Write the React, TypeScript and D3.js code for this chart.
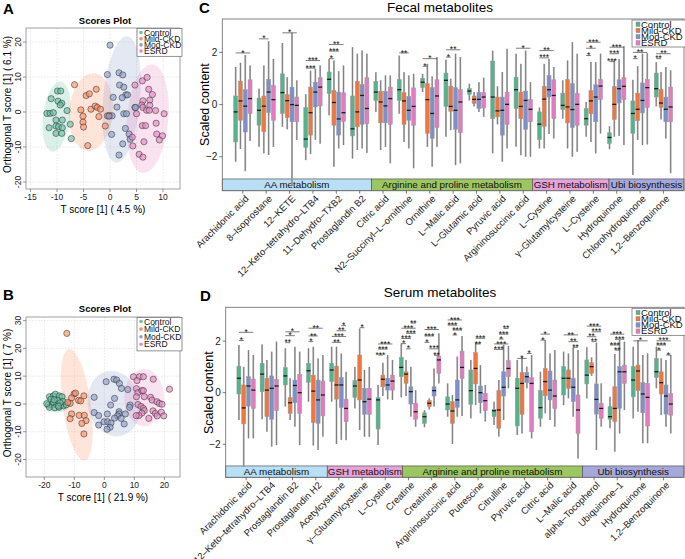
import React from 'react';
import * as d3 from 'd3';

const FONT = 'Liberation Sans, Arial, Helvetica, sans-serif';

const groups = ['Control', 'Mild-CKD', 'Mod-CKD', 'ESRD'];
const pointColors = ['#66c2a5', '#fc8d62', '#8da0cb', '#e78ac3'];
const boxColors = ['#55b38b', '#f0763f', '#7f90c8', '#e07cbf'];

type Pt = [number, number];
type Box = [number, number, number, number, number]; // lower whisker, q1, median, q3, upper whisker
type Sig = [number, number, number, number, string]; // metabolite, group a, group b, height, label
type Ell = { cx: number; cy: number; rx: number; ry: number; angle: number };

// ---- A: fecal OPLS-DA scores ----
const fecalControl: Pt[] = [[-9.9, 6.0], [-9.3, 6.0], [-11.1, 3.8], [-9.8, 3.1], [-9.1, 2.5], [-9.4, 2.0], [-11.9, -0.4], [-11.3, -0.4], [-10.7, -0.2], [-10.2, -2.3], [-9.0, -2.3], [-8.1, 0.4], [-7.5, -3.5], [-11.5, -4.5], [-10.2, -4.0], [-9.7, -4.2], [-9.0, -4.5], [-10.2, -6.1], [-9.1, -6.1], [-7.3, -7.6]];
const fecalMild: Pt[] = [[-6.7, 7.8], [-4.5, 4.7], [-3.9, 5.2], [-2.6, 6.5], [-5.5, 0.6], [-3.6, 0.8], [-2.8, 1.7], [-2.4, 1.3], [-1.8, 0.8], [-2.1, -1.3], [-5.1, -1.2], [-5.1, -2.9], [-5.0, -4.3], [-0.9, -4.0], [-4.2, -9.6], [-0.5, -1.1], [-0.1, -1.0]];
const fecalMod: Pt[] = [[0, 19.1], [-0.5, 10.7], [1.7, 11.2], [2.4, 10.6], [1.8, 7.7], [2.6, 7.1], [3.0, 4.9], [3.3, 4.9], [2.3, 4.1], [0.6, 4.2], [1.3, 1.4], [2.6, -0.5], [3.1, -0.5], [0.4, -1.1], [-0.2, -1.2], [4.7, 1.3], [4.8, 1.3], [2.9, -4.7], [3.6, -6.3], [0.3, -6.4], [2.4, -9.1], [1.7, -12.3], [3.8, -7.8]];
const fecalESRD: Pt[] = [[4.7, 7.7], [6.1, 8.9], [7.0, 9.9], [7.3, 6.5], [8.0, 5.0], [6.2, 3.2], [7.5, 3.4], [7.5, 1.9], [6.0, 2.0], [6.2, 1.3], [6.9, 0.5], [7.4, 0.5], [8.6, 0.4], [10.2, -0.5], [5.0, -0.5], [6.1, -3.9], [6.7, -3.9], [8.7, -3.2], [8.8, -6.3], [9.9, -6.8], [9.3, -8.0], [6.4, -8.5], [4.2, -7.2], [4.3, -9.7], [5.5, -12.1], [6.2, -12.9]];
const fecalEllipses: Ell[] = [
  { cx: -10.1, cy: -1.3, rx: 2.55, ry: 10.1, angle: 7 },
  { cx: -3.6, cy: 0, rx: 4.15, ry: 11.1, angle: 5 },
  { cx: 2.2, cy: 3.6, rx: 3.5, ry: 18.1, angle: 5 },
  { cx: 7.1, cy: -1.9, rx: 3.9, ry: 15.6, angle: 5 },
];

// ---- B: serum OPLS-DA scores ----
const serumControl: Pt[] = [[-18.3, 2.6], [-17.0, 2.9], [-16.3, 3.5], [-17.8, 1.7], [-15.0, 2.9], [-14.1, 2.6], [-18.7, -0.4], [-17.4, -0.4], [-16.0, -0.3], [-18.3, -1.2], [-16.5, -1.4], [-15.1, -1.2], [-14.3, -0.3], [-13.6, -0.7], [-13.8, 0.9], [-17.0, 0.7], [-15.6, 1.3], [-14.7, 0.4], [-12.7, -0.3], [-19.2, 0.1], [-16.7, 1.5], [-15.3, -0.8]];
const serumMild: Pt[] = [[-12.5, 25.4], [-10.1, 3.6], [-8.6, 1.3], [-10.9, 2.2], [-6.8, 2.9], [-7.9, 1.1], [-11.4, 0.2], [-10.9, -3.6], [-11.4, -5.3], [-8.4, -4.1], [-6.7, -4.1], [-6.1, -6.0], [-7.5, -7.0], [-6.8, -10.8], [-9.6, 3.9], [-12.2, 0.5]];
const serumMod: Pt[] = [[-3.4, 2.4], [0.6, 8.0], [3.2, 8.9], [4.1, 8.6], [5.0, 7.4], [5.7, 5.6], [7.8, 5.2], [3.4, 2.0], [2.1, -0.4], [8.6, -0.4], [8.4, -1.2], [-3.4, -3.1], [-1.9, -4.2], [1.0, -3.6], [4.9, -2.8], [4.9, -3.6], [4.4, -4.3], [3.4, -5.1], [-0.1, -6.4], [1.1, -6.4], [-1.9, -7.6], [2.2, -6.9], [1.9, -8.4], [0.9, -9.1], [7.0, -3.6], [6.6, -7.2], [5.6, -5.2]];
const serumESRD: Pt[] = [[9.7, 9.8], [11.7, 9.8], [13.0, 9.8], [16.3, 8.9], [21.7, 5.3], [10.9, 8.4], [10.7, 5.5], [11.2, 4.1], [12.5, 4.8], [13.0, 4.8], [10.7, 2.6], [13.3, 2.6], [11.2, -0.2], [12.2, -0.9], [15.4, 2.4], [15.9, 1.4], [17.5, 0.8], [18.3, 0.2], [19.2, -0.1], [13.0, -1.6], [13.3, -2.4], [12.5, -3.3], [11.5, -4.2], [10.6, -4.2], [14.8, -5.2], [16.2, -2.5], [17.0, -3.4], [17.6, -4.3], [19.0, -3.0], [19.8, -4.3]];
const serumEllipses: Ell[] = [
  { cx: -15.6, cy: 0.4, rx: 4.2, ry: 3.6, angle: 0 },
  { cx: -9.2, cy: -0.3, rx: 4.7, ry: 20.3, angle: -8 },
  { cx: 3.2, cy: 0.1, rx: 8.7, ry: 11.9, angle: -12 },
  { cx: 13.2, cy: 2.3, rx: 6.6, ry: 10.3, angle: 0 },
];

// ---- C: fecal metabolites ----
const fecalMetabolites = ['Arachidonic acid', '8–Isoprostane', '12–KETE', '12–Keto–tetrahydro–LTB4', '11–Dehydro–TXB2', 'Prostaglandin B2', 'Citric acid', 'N2–Succinyl–L–ornithine', 'Ornithine', 'L–Malic acid', 'L–Glutamic acid', 'Pyruvic acid', 'Argininosuccinic acid', 'L–Cystine', 'γ–Glutamylcysteine', 'L–Cysteine', 'Hydroquinone', 'Chlorohydroquinone', '1,2–Benzoquinone'];
const fecalPathways: [string, number][] = [['AA metabolism', 6], ['Arginine and proline metabolism', 7], ['GSH metabolism', 3], ['Ubi biosynthesis', 3]];
const fecalBoxControl: Box[] = [[-2.19, -1.43, -0.28, 0.33, 1.44], [-1.62, -0.79, -0.22, 0.25, 0.61], [-0.85, -0.34, 0.46, 1.18, 2.36], [-2.13, -1.64, -1.32, -0.11, 0.4], [-0.41, 0.42, 0.97, 1.25, 1.75], [-2.07, -1.2, -0.93, 0.33, 2.2], [-0.28, 0.16, 0.48, 0.89, 1.24], [-0.35, 0.16, 0.57, 0.96, 1.88], [0.48, 0.65, 0.86, 1.01, 1.18], [-1.23, -0.07, 0.93, 1.21, 1.72], [0.16, 0.39, 0.52, 0.61, 0.8], [-1.87, -0.54, 0.29, 1.67, 2.07], [-1.62, -0.15, 0.57, 1.05, 1.95], [-1.68, -1.34, -0.75, -0.28, -0.11], [-0.54, -0.19, -0.03, 0.44, 0.93], [-1.23, -0.79, -0.54, -0.15, 0.1], [-1.71, -1.49, -1.26, -1.08, -0.83], [-2.7, -1.11, -0.34, 0.14, 0.95], [-0.07, 0.29, 0.61, 1.21, 1.63]];
const fecalBoxMild: Box[] = [[-1.7, -0.6, 0.14, 0.9, 1.6], [-1.87, -1.04, -0.06, 0.33, 1.5], [-0.95, -0.5, 0.15, 0.38, 1.05], [-1.9, -1.17, -0.31, 0.67, 1.3], [-2.38, -0.79, 0.08, 0.55, 1.69], [-1.74, -0.85, -0.28, 0.89, 1.95], [-1.74, -0.7, 0.1, 0.51, 0.93], [-1.43, -0.76, 0.14, 0.46, 1.24], [-1.62, -1.1, 0.19, 0.8, 1.56], [-0.98, -0.26, -0.07, 0.71, 0.99], [-0.07, 0.04, 0.2, 0.33, 0.48], [-0.76, -0.47, -0.24, 0.29, 0.7], [-1.94, -0.54, -0.07, 0.48, 1.56], [-1.68, -0.83, 0.21, 0.7, 1.56], [-1.68, -0.7, -0.09, 0.96, 1.69], [-1.43, -0.35, 0.14, 0.54, 1.63], [-1.23, -0.57, 0.01, 0.7, 1.72], [-1.36, -0.62, -0.18, 0.44, 1.47], [-0.57, -0.11, 0.06, 0.58, 1.25]];
const fecalBoxMod: Box[] = [[-2.55, -1.05, -0.06, 0.57, 1.9], [-1.93, -0.31, 0.48, 0.97, 2.43], [-3.1, -0.66, 0.0, 0.67, 2.75], [-1.35, -0.09, 0.48, 0.86, 1.37], [-1.68, -1.17, -0.55, 0.48, 1.28], [-1.68, -0.76, 0.35, 0.77, 2.07], [-1.62, -0.7, -0.05, 0.51, 1.12], [-1.68, -0.6, -0.22, 0.32, 1.12], [-2.38, -1.3, -0.34, 0.65, 1.08], [-2.32, -0.95, -0.22, 0.65, 1.95], [-0.28, -0.15, 0.2, 0.46, 0.86], [-2.19, -1.17, -0.22, 0.29, 1.25], [-2.0, -0.95, 0.16, 0.52, 2.07], [-1.13, 0.29, 0.57, 1.12, 1.75], [-2.0, -0.88, -0.19, 0.8, 2.39], [-1.87, -0.66, 0.29, 0.76, 1.63], [-1.2, 0.06, 0.61, 0.95, 1.75], [-1.55, -0.32, 0.16, 0.83, 1.95], [-1.3, -0.66, -0.18, 0.29, 1.44]];
const fecalBoxESRD: Box[] = [[-1.4, -0.35, 0.23, 0.95, 1.5], [-1.62, -0.6, 0.19, 0.73, 1.75], [-1.36, -0.66, -0.03, 0.29, 0.93], [-1.5, -0.05, 0.67, 1.03, 1.5], [-1.55, -0.65, -0.31, 0.45, 1.5], [-1.85, -0.73, -0.15, 1.03, 1.95], [-2.25, -0.76, 0.23, 0.67, 1.12], [-2.44, -0.79, -0.07, 0.64, 1.18], [-1.62, -0.88, 0.33, 0.95, 1.82], [-2.25, -1.08, 0.1, 0.57, 1.82], [-0.47, -0.13, 0.29, 0.46, 1.03], [-1.68, -0.76, 0.01, 0.47, 2.14], [-2.0, -0.66, -0.18, 0.19, 0.86], [-1.3, -0.54, 0.35, 0.95, 1.44], [-1.81, -0.79, 0.01, 0.42, 1.95], [-1.11, 0.19, 0.71, 0.96, 1.95], [-1.55, 0.19, 0.7, 1.03, 2.24], [-1.53, -0.11, 0.65, 0.96, 1.97], [-2.63, -0.66, -0.09, 0.67, 1.31]];
const fecalSignif: Sig[] = [
  [0, 0, 3, 1.98, '*'], [1, 0, 2, 2.52, '*'], [2, 0, 3, 2.75, '*'],
  [3, 0, 3, 1.69, '***'], [3, 0, 2, 1.4, '***'],
  [4, 0, 3, 2.3, '**'], [4, 0, 2, 2.05, '***'], [4, 0, 1, 1.76, '*'],
  [7, 0, 2, 1.98, '**'], [8, 0, 3, 1.76, '*'], [8, 0, 1, 1.47, '*'],
  [9, 0, 3, 2.1, '**'], [9, 0, 1, 1.82, '*'], [12, 0, 3, 2.16, '*'],
  [13, 0, 3, 2.07, '**'], [13, 0, 2, 1.79, '***'],
  [15, 0, 3, 2.39, '***'], [15, 0, 2, 2.16, '*'], [15, 0, 1, 1.88, '*'],
  [16, 0, 3, 2.2, '***'], [16, 0, 2, 1.95, '***'], [16, 0, 1, 1.65, '***'],
  [17, 0, 3, 2.0, '**'], [17, 0, 1, 1.76, '*'],
  [18, 0, 3, 1.95, '**'], [18, 0, 1, 1.76, '**'],
];

// ---- D: serum metabolites ----
const serumMetabolites = ['Arachidonic acid', '12–Keto–tetrahydro–LTB4', 'Prostaglandin B2', 'Prostaglandin H2', 'Acetylcysteine', 'γ–Glutamylcysteine', 'L–Cystine', 'Creatine', 'Creatinine', 'Argininosuccinic acid', 'Putrescine', 'Citrulline', 'Pyruvic acid', 'Citric acid', 'L–Malic acid', 'alpha–Tocopherol', 'Ubiquinone–1', 'Hydroquinone', '1,2–Benzoquinone'];
const serumPathways: [string, number][] = [['AA metabolism', 4], ['GSH metabolism', 3], ['Arginine and proline metabolism', 8], ['Ubi biosynthesis', 4]];
const serumBoxControl: Box[] = [[-1.06, -0.05, 0.56, 1.03, 1.85], [-1.03, 0.04, 0.72, 1.14, 1.87], [-0.54, 0.3, 0.65, 0.97, 1.72], [-0.35, 0.4, 0.85, 1.14, 1.72], [-0.35, 0.43, 0.88, 1.14, 1.78], [-0.61, -0.18, 0.26, 0.47, 1.0], [-2.03, -1.41, -0.28, -0.18, 0.3], [-0.18, 0.62, 0.98, 1.37, 1.91], [-1.34, -1.19, -0.93, -0.78, -0.68], [-0.93, -0.67, -0.44, -0.16, 0.36], [-1.0, -0.45, 0.08, 0.88, 1.27], [-1.25, -0.93, -0.7, -0.65, -0.35], [-1.64, -1.29, 0.17, 0.56, 1.27], [-1.32, -0.99, -0.58, 0.08, 0.81], [-0.48, -0.09, 0.56, 1.01, 1.59], [-0.22, 0.34, 0.68, 1.27, 1.76], [-1.38, -1.03, -0.93, -0.54, -0.16], [-1.0, -0.16, 0.49, 1.01, 1.78], [0.17, 0.59, 0.81, 1.33, 1.78]];
const serumBoxMild: Box[] = [[-2.87, -1.21, -0.59, 0.3, 1.0], [-1.51, -0.93, 0.1, 0.56, 1.27], [-1.06, -0.8, -0.39, -0.19, 0.56], [-2.05, -1.16, 0.06, 0.68, 1.78], [-1.99, -0.25, 0.3, 1.03, 1.78], [-1.45, -0.28, 0.49, 1.46, 2.49], [-0.13, 0.23, 0.52, 0.68, 1.16], [-0.13, 0.36, 0.72, 0.81, 1.27], [-0.65, -0.54, -0.41, -0.31, -0.22], [-1.99, -1.19, -0.71, -0.35, -0.09], [-0.48, 0.34, 0.94, 1.55, 1.94], [-1.7, -1.38, -0.67, 0.08, 0.49], [-1.58, -0.84, 0.36, 0.78, 1.37], [-0.8, -0.12, 0.43, 0.94, 2.04], [-0.22, 0.17, 0.56, 0.88, 1.52], [0.65, 0.75, 1.01, 1.16, 1.37], [-2.29, -1.12, -0.61, 0.23, 1.5], [-0.74, 0.08, 0.84, 1.07, 2.04], [-0.87, -0.05, 0.39, 0.81, 1.33]];
const serumBoxMod: Box[] = [[-1.77, -0.52, 0.26, 0.62, 1.65], [-2.09, -1.03, 0.17, 0.65, 1.59], [-1.32, -0.39, 0.28, 0.49, 1.78], [-2.22, -1.19, -0.28, 0.49, 1.33], [-1.83, -0.57, 0.3, 0.59, 1.52], [-1.71, -0.84, -0.35, 0.17, 0.88], [-0.26, 0.1, 0.3, 0.56, 1.46], [-0.93, -0.44, 0.04, 0.23, 1.0], [-0.54, -0.13, 0.08, 0.23, 0.94], [-0.93, -0.57, -0.28, 0.49, 1.4], [-0.8, -0.39, 0.0, 0.26, 1.07], [-1.06, -0.13, 0.21, 0.81, 1.85], [0.17, 0.39, 0.62, 0.78, 1.01], [-1.06, -0.28, 0.1, 0.84, 1.52], [-0.93, -0.35, 0.21, 0.56, 1.76], [-2.22, -0.83, -0.26, 0.34, 1.94], [-1.58, -0.61, 0.81, 1.01, 2.04], [-1.96, -0.78, -0.05, 0.39, 1.46], [-1.32, -0.83, -0.13, 0.3, 1.27]];
const serumBoxESRD: Box[] = [[-1.77, -0.61, 0.1, 0.53, 1.46], [-2.03, -0.7, 0.26, 0.52, 1.98], [-2.03, -0.8, 0.0, 0.71, 1.59], [-1.7, -0.9, -0.09, 0.45, 1.46], [-1.84, -1.12, -0.61, -0.25, 0.81], [-1.71, -0.84, -0.25, 0.17, 1.0], [-0.28, 0.1, 0.45, 0.68, 1.27], [-1.32, -1.03, -0.74, -0.41, 0.1], [0.36, 0.75, 1.27, 1.42, 2.3], [-0.9, 0.56, 0.98, 1.61, 2.2], [-1.12, -0.7, -0.31, -0.03, 0.3], [0.17, 0.62, 0.94, 1.24, 1.81], [-1.77, -1.51, 0.36, 0.59, 1.46], [-1.32, -0.61, -0.13, 0.49, 1.65], [-2.55, -1.58, -0.67, -0.09, 1.65], [-1.32, -0.99, -0.61, -0.41, 0.36], [-0.67, 0.36, 0.81, 1.07, 1.98], [-1.96, -1.29, -0.18, 0.36, 1.52], [-1.58, -0.87, -0.44, -0.03, 1.46]];
const serumSignif: Sig[] = [
  [0, 0, 3, 2.34, '*'], [0, 0, 1, 2.02, '*'],
  [2, 0, 3, 2.36, '*'], [2, 0, 2, 2.21, '*'], [2, 0, 1, 1.94, '**'],
  [3, 0, 3, 2.5, '**'], [3, 0, 2, 2.2, '**'], [3, 0, 1, 1.98, '*'],
  [4, 2, 3, 2.6, '*'], [4, 1, 3, 2.4, '**'], [4, 0, 3, 2.18, '***'], [4, 0, 2, 1.95, '**'],
  [5, 1, 2, 2.52, '*'],
  [6, 0, 3, 1.89, '***'], [6, 0, 2, 1.69, '***'], [6, 0, 1, 1.46, '***'],
  [7, 2, 3, 2.7, '**'], [7, 0, 3, 2.5, '***'], [7, 1, 3, 2.3, '***'], [7, 0, 2, 2.1, '***'], [7, 0, 1, 1.9, '*'], [7, 1, 2, 1.7, '*'],
  [8, 0, 3, 2.45, '***'], [8, 0, 2, 2.2, '***'], [8, 0, 1, 1.95, '*'], [8, 1, 3, 1.7, '***'], [8, 2, 3, 1.45, '**'],
  [9, 0, 3, 2.82, '***'], [9, 0, 2, 2.62, '***'], [9, 1, 3, 2.43, '***'], [9, 1, 2, 2.24, '*'],
  [10, 1, 3, 2.11, '***'], [10, 1, 2, 1.89, '**'],
  [11, 2, 3, 2.49, '**'], [11, 1, 3, 2.27, '***'], [11, 1, 2, 2.08, '*'], [11, 0, 3, 1.89, '***'], [11, 0, 2, 1.68, '***'],
  [12, 2, 3, 1.52, '*'], [12, 0, 2, 1.33, '*'],
  [13, 0, 2, 2.27, '*'], [13, 0, 1, 2.04, '*'],
  [14, 0, 3, 2.24, '**'], [14, 1, 3, 1.98, '**'], [14, 2, 3, 1.76, '**'],
  [15, 0, 3, 2.58, '***'], [15, 1, 3, 2.36, '***'], [15, 0, 2, 2.17, '**'], [15, 1, 2, 1.98, '**'],
  [16, 0, 3, 2.27, '***'], [16, 1, 3, 2.07, '***'], [16, 0, 2, 1.85, '***'], [16, 1, 2, 1.65, '**'],
  [17, 0, 3, 2.01, '*'],
  [18, 0, 3, 2.01, '***'], [18, 0, 2, 1.85, '***'], [18, 0, 1, 1.65, '*'], [18, 2, 3, 1.46, '*'],
];

const pathwayColors: Record<string, string> = {
  'AA metabolism': '#b8dff5',
  'Arginine and proline metabolism': '#9cc660',
  'GSH metabolism': '#e6a2d9',
  'Ubi biosynthesis': '#a6a8db',
};

interface Frame { left: number; top: number; right: number; bottom: number }

function ScoresPlot(props: {
  id: string; letter: string; letterY: number; titleY: number; frame: Frame;
  xDomain: [number, number]; yDomain: [number, number]; xTicks: number[]; yTicks: number[];
  xLabel: string; yLabel: string; scores: Pt[][]; ellipses: Ell[]; legendStep: number;
}) {
  const { id, letter, letterY, titleY, frame, xDomain, yDomain, xTicks, yTicks, xLabel, yLabel, scores, ellipses, legendStep } = props;
  const x = d3.scaleLinear().domain(xDomain).range([frame.left, frame.right]);
  const y = d3.scaleLinear().domain(yDomain).range([frame.bottom, frame.top]);
  const midX = (frame.left + frame.right) / 2;
  const midY = (frame.top + frame.bottom) / 2;
  return (
    <g fontFamily={FONT}>
      <text x={3} y={letterY} fontSize={15} fontWeight="bold">{letter}</text>
      <text x={midX + 2} y={titleY} fontSize={9.5} fontWeight="bold" textAnchor="middle">Scores Plot</text>
      <defs>
        <clipPath id={id}><rect x={frame.left} y={frame.top} width={frame.right - frame.left} height={frame.bottom - frame.top} /></clipPath>
      </defs>
      <g stroke="#d9d9d9" strokeWidth={0.6} strokeDasharray="1.5,1.5">
        {xTicks.map(t => <line key={'gx' + t} x1={x(t)} x2={x(t)} y1={frame.top} y2={frame.bottom} />)}
        {yTicks.map(t => <line key={'gy' + t} x1={frame.left} x2={frame.right} y1={y(t)} y2={y(t)} />)}
      </g>
      <g clipPath={`url(#${id})`}>
        {ellipses.map((e, i) => (
          <ellipse key={i} cx={x(e.cx)} cy={y(e.cy)} rx={x(e.cx + e.rx) - x(e.cx)} ry={y(e.cy) - y(e.cy + e.ry)}
            transform={`rotate(${e.angle},${x(e.cx)},${y(e.cy)})`} fill={pointColors[i]} fillOpacity={0.24} />
        ))}
        {scores.map((pts, g) => pts.map((p, i) => (
          <circle key={g + '-' + i} cx={x(p[0])} cy={y(p[1])} r={3.1} fill={pointColors[g]} fillOpacity={0.65} stroke="#333" strokeWidth={0.55} />
        )))}
      </g>
      <rect x={frame.left} y={frame.top} width={frame.right - frame.left} height={frame.bottom - frame.top} fill="none" stroke="#8a8a8a" strokeWidth={0.8} />
      {xTicks.map(t => (
        <g key={'tx' + t}>
          <line x1={x(t)} x2={x(t)} y1={frame.bottom} y2={frame.bottom + 3} stroke="#555" strokeWidth={0.6} />
          <text x={x(t)} y={frame.bottom + 10.5} fontSize={8.5} textAnchor="middle" fill="#222">{t}</text>
        </g>
      ))}
      {yTicks.map(t => (
        <g key={'ty' + t}>
          <line x1={frame.left - 3} x2={frame.left} y1={y(t)} y2={y(t)} stroke="#555" strokeWidth={0.6} />
          <text transform={`translate(${frame.left - 5},${y(t)}) rotate(-90)`} fontSize={8.5} textAnchor="middle" fill="#222">{t}</text>
        </g>
      ))}
      <text x={midX} y={frame.bottom + 24} fontSize={10} textAnchor="middle">{xLabel}</text>
      <text transform={`translate(11,${midY - 4}) rotate(-90)`} fontSize={10} textAnchor="middle">{yLabel}</text>
      <g>
        <rect x={frame.right - 43} y={frame.top + 0.5} width={45} height={legendStep * 4 + 3} fill="#fff" stroke="#666" strokeWidth={0.7} />
        {groups.map((gname, g) => (
          <g key={gname}>
            <circle cx={frame.right - 39} cy={frame.top + 4.5 + g * legendStep} r={1.8} fill={pointColors[g]} />
            <text x={frame.right - 36} y={frame.top + 7.5 + g * legendStep} fontSize={8.5} fill="#111">{gname}</text>
          </g>
        ))}
      </g>
    </g>
  );
}

function BoxPanel(props: {
  id: string; letter: string; letterX: number; letterY: number; title: string; titleY: number;
  frame: Frame; yDomain: [number, number]; bandTopValue: number; bandEdges: number[];
  metabolites: string[]; pathways: [string, number][]; stats: Box[][]; signif: Sig[];
}) {
  const { letter, letterX, letterY, title, titleY, frame, yDomain, bandTopValue, bandEdges, metabolites, pathways, stats, signif } = props;
  const { left, top, right, bottom } = frame;
  const x = d3.scalePoint<string>().domain(metabolites).range([left, right]).padding(0.88);
  const y = d3.scaleLinear().domain(yDomain).range([bottom, top]);
  const bandTop = y(bandTopValue);
  const gx = (i: number, g: number) => (x(metabolites[i]) as number) + (g - 1.5) * 4.8;
  // band edges given in category-index units
  const ex = (v: number) => Math.max(left, Math.min(right, (x(metabolites[0]) as number) + v * x.step()));
  const bands = pathways.map(([name], k) => ({ name, x0: ex(bandEdges[k]), x1: ex(bandEdges[k + 1]) }));

  return (
    <g fontFamily={FONT}>
      <text x={letterX} y={letterY} fontSize={15} fontWeight="bold">{letter}</text>
      <text x={440} y={titleY} fontSize={13.5} textAnchor="middle">{title}</text>
      {/* pathway bands */}
      {bands.map(b => (
        <g key={b.name}>
          <rect x={b.x0} y={bandTop} width={b.x1 - b.x0} height={bottom - bandTop} fill={pathwayColors[b.name]} stroke="#555" strokeWidth={0.7} />
          <text x={(b.x0 + b.x1) / 2} y={(bandTop + bottom) / 2} dy="0.36em" fontSize={9.8} textAnchor="middle" fill="#111">{b.name}</text>
        </g>
      ))}
      {/* boxes */}
      {metabolites.map((m, i) => (
        <g key={m}>
          {stats.map((s, g) => {
            const [lo, q1, med, q3, hi] = s[i];
            const cx = gx(i, g);
            return (
              <g key={g}>
                <line x1={cx} x2={cx} y1={y(lo)} y2={y(hi)} stroke="#b3b3b3" strokeWidth={1.8} />
                <line x1={cx} x2={cx} y1={y(lo)} y2={y(hi)} stroke="#555" strokeWidth={0.55} />
                <rect x={cx - 2} y={y(q3)} width={4} height={y(q1) - y(q3)} fill={boxColors[g]} stroke="#9a9a9a" strokeWidth={0.5} />
                <line x1={cx - 2} x2={cx + 2} y1={y(med)} y2={y(med)} stroke="#1a1a1a" strokeWidth={1.3} />
              </g>
            );
          })}
        </g>
      ))}
      {/* significance brackets */}
      {signif.map(([i, a, b, h, label], k) => (
        <g key={'s' + k}>
          <line x1={gx(i, a)} x2={gx(i, b)} y1={y(h)} y2={y(h)} stroke="#444" strokeWidth={0.7} />
          <text x={(gx(i, a) + gx(i, b)) / 2} y={y(h) + 2.6} fontSize={8.5} textAnchor="middle" fill="#111">{label}</text>
        </g>
      ))}
      <rect x={left} y={top} width={right - left} height={bottom - top} fill="none" stroke="#777" strokeWidth={0.9} />
      {/* y axis */}
      {[-2, 0, 2].map(t => (
        <g key={'y' + t}>
          <line x1={left - 3} x2={left} y1={y(t)} y2={y(t)} stroke="#444" strokeWidth={0.7} />
          <text x={left - 5} y={y(t)} dy="0.35em" fontSize={10} textAnchor="end" fill="#222">{t < 0 ? '−' + Math.abs(t) : t}</text>
        </g>
      ))}
      <text transform={`translate(${left - 13},${y(0)}) rotate(-90)`} fontSize={12.5} textAnchor="middle">Scaled content</text>
      {/* x axis */}
      {metabolites.map(m => (
        <g key={'x' + m}>
          <line x1={x(m)} x2={x(m)} y1={bottom} y2={bottom + 3} stroke="#444" strokeWidth={0.7} />
          <text transform={`translate(${(x(m) as number) + 6.5},${bottom + 8.5}) rotate(-45)`} fontSize={9.5} textAnchor="end" fill="#222">{m}</text>
        </g>
      ))}
      {/* legend */}
      <g>
        <rect x={right - 52} y={top + 1} width={54} height={27} fill="#fff" stroke="#666" strokeWidth={0.7} />
        {groups.map((gname, g) => (
          <g key={gname}>
            <rect x={right - 48} y={top + 3 + g * 6.2} width={4} height={4.5} fill={boxColors[g]} stroke="#888" strokeWidth={0.4} />
            <text x={right - 43} y={top + 8.5 + g * 6.2} fontSize={9.5} fill="#111">{gname}</text>
          </g>
        ))}
      </g>
    </g>
  );
}

export default function App() {
  return (
    <div style={{ position: 'absolute', left: 0, top: 0 }}>
      <svg width={685} height={559} viewBox="0 0 685 559" style={{ display: 'block', background: '#fff' }}>
        <rect width={685} height={559} fill="#fff" />
        <ScoresPlot id="clipA" letter="A" letterY={14} titleY={23.5}
          frame={{ left: 26, top: 28, right: 180, bottom: 189 }}
          xDomain={[-15.85, 13.2]} yDomain={[-22, 24]}
          xTicks={[-15, -10, -5, 0, 5, 10]} yTicks={[-20, -10, 0, 10, 20]}
          xLabel="T score [1] ( 4.5 %)" yLabel="Orthogonal T score [1] ( 6.1 %)"
          scores={[fecalControl, fecalMild, fecalMod, fecalESRD]} ellipses={fecalEllipses} legendStep={6.2} />
        <ScoresPlot id="clipB" letter="B" letterY={300} titleY={312}
          frame={{ left: 26, top: 317, right: 180, bottom: 477 }}
          xDomain={[-26.1, 25.2]} yDomain={[-26.3, 31.3]}
          xTicks={[-20, -10, 0, 10, 20]} yTicks={[-20, -10, 0, 10, 20, 30]}
          xLabel="T score [1] ( 21.9 %)" yLabel="Orthogonal T score [1] ( 7 %)"
          scores={[serumControl, serumMild, serumMod, serumESRD]} ellipses={serumEllipses} legendStep={7.6} />
        <BoxPanel id="C" letter="C" letterX={199} letterY={12.5} title="Fecal metabolites" titleY={11.5}
          frame={{ left: 222.3, top: 19, right: 684, bottom: 190.7 }} yDomain={[-3.3, 3.28]} bandTopValue={-2.85}
          bandEdges={[-2, 5.5, 12.39, 15.67, 20]}
          metabolites={fecalMetabolites} pathways={fecalPathways}
          stats={[fecalBoxControl, fecalBoxMild, fecalBoxMod, fecalBoxESRD]} signif={fecalSignif} />
        <BoxPanel id="D" letter="D" letterX={200} letterY={301} title="Serum metabolites" titleY={296.5}
          frame={{ left: 225.7, top: 307.3, right: 684, bottom: 477.3 }} yDomain={[-3.28, 3.31]} bandTopValue={-2.84}
          bandEdges={[-2, 3.5, 6.74, 14.5, 20]}
          metabolites={serumMetabolites} pathways={serumPathways}
          stats={[serumBoxControl, serumBoxMild, serumBoxMod, serumBoxESRD]} signif={serumSignif} />
      </svg>
    </div>
  );
}
